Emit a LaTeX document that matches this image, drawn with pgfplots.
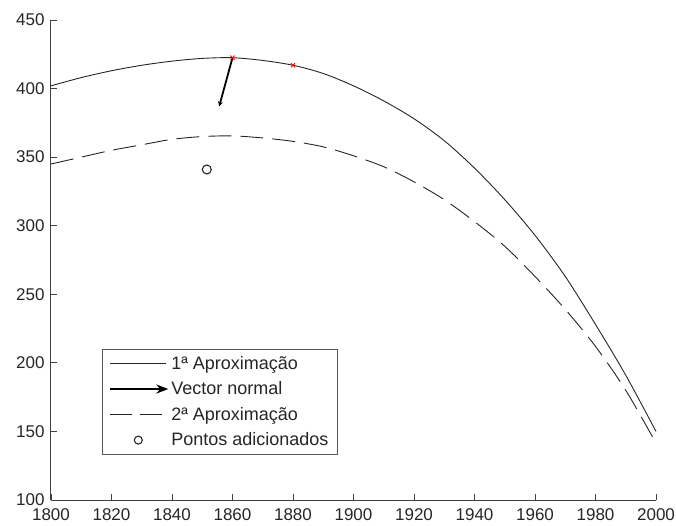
\documentclass[border=0pt]{standalone}
\usepackage{fontspec}
\setmainfont{Liberation Sans}
\usepackage{pgfplots}
\pgfplotsset{compat=1.18}
\usetikzlibrary{arrows.meta}

\begin{document}
\begin{tikzpicture}
\useasboundingbox (-51pt,-25pt) rectangle (625pt,500pt);
\begin{axis}[
  scale only axis, width=605pt, height=480pt,
  at={(0pt,0pt)}, anchor=south west,
  xmin=1800, xmax=2000, ymin=100, ymax=450,
  axis lines=left, axis line style={-, line width=1pt, black!75},
  tick align=inside, major tick length=6pt,
  tick style={black!75, line width=0.8pt},
  xtick={1800,1820,...,2000}, ytick={100,150,...,450},
  /pgf/number format/1000 sep={},
  /pgf/number format/assume math mode=true,
  ticklabel style={font=\fontsize{17}{20}\selectfont, text=black!85},
  xticklabel style={yshift=-5pt},
  yticklabel style={xshift=-3pt},
  legend style={at={(rel axis cs:0.0840,0.0940)}, anchor=south west,
    draw=black!65, line width=1pt, fill=white,
    font=\fontsize{18}{21}\selectfont, text=black!85,
    row sep=7pt, inner xsep=7pt, inner ysep=5pt},
  legend cell align=left,
  clip=false,
]
% first approximation
\addplot[black!85, line width=0.9pt, smooth,
  legend image code/.code={\draw[black!85, line width=0.9pt] (0pt,0pt) -- (56pt,0pt);}]
  coordinates {
  (1800,402) (1810,408) (1820,413) (1830,417) (1840,420) (1850,422)
  (1860,422.5) (1870,420.5) (1880,417) (1890,411) (1900,402) (1910,391)
  (1920,378) (1930,362) (1940,342) (1950,319) (1960,293) (1970,263)
  (1980,228) (1990,191) (2000,150)};
\addlegendentry{1ª Aproximação}
% normal vector
\addplot[black, line width=1.8pt, -{Stealth[length=5pt,width=5pt]},
  legend image code/.code={\draw[black, line width=2pt, -{Stealth[length=12pt,width=9pt]}] (0pt,0pt) -- (58pt,0pt);}]
  coordinates {(1860,422.5) (1855.6,387)};
\addlegendentry{Vector normal}
% second approximation
\addplot[black!85, line width=0.9pt, smooth, dash pattern=on 23pt off 9pt,
  legend image code/.code={\draw[black!85, line width=0.9pt, dash pattern=on 22pt off 8pt] (0pt,0pt) -- (56pt,0pt);}]
  coordinates {
  (1800,345) (1810,350) (1820,355) (1830,359) (1840,363) (1850,365)
  (1860,365.5) (1870,364) (1880,361.5) (1890,357.5) (1900,351) (1910,343)
  (1920,332) (1930,319) (1940,303) (1950,285) (1960,263) (1970,239)
  (1980,212) (1990,180) (2000,141.5)};
\addlegendentry{2ª Aproximação}
% added points
\addplot[only marks, mark=o, mark size=4.5pt, black!85, mark options={line width=1.1pt},
  legend image code/.code={\draw[black!85, line width=1.1pt] (28pt,0pt) circle (4pt);}]
  coordinates {(1851.5,341)};
\addlegendentry{Pontos adicionados}
% points on the curve
\addplot[only marks, mark=x, mark size=3pt, red, mark options={line width=0.8pt}, forget plot]
  coordinates {(1860,422.5) (1880,417)};
\end{axis}
\end{tikzpicture}
\end{document}
